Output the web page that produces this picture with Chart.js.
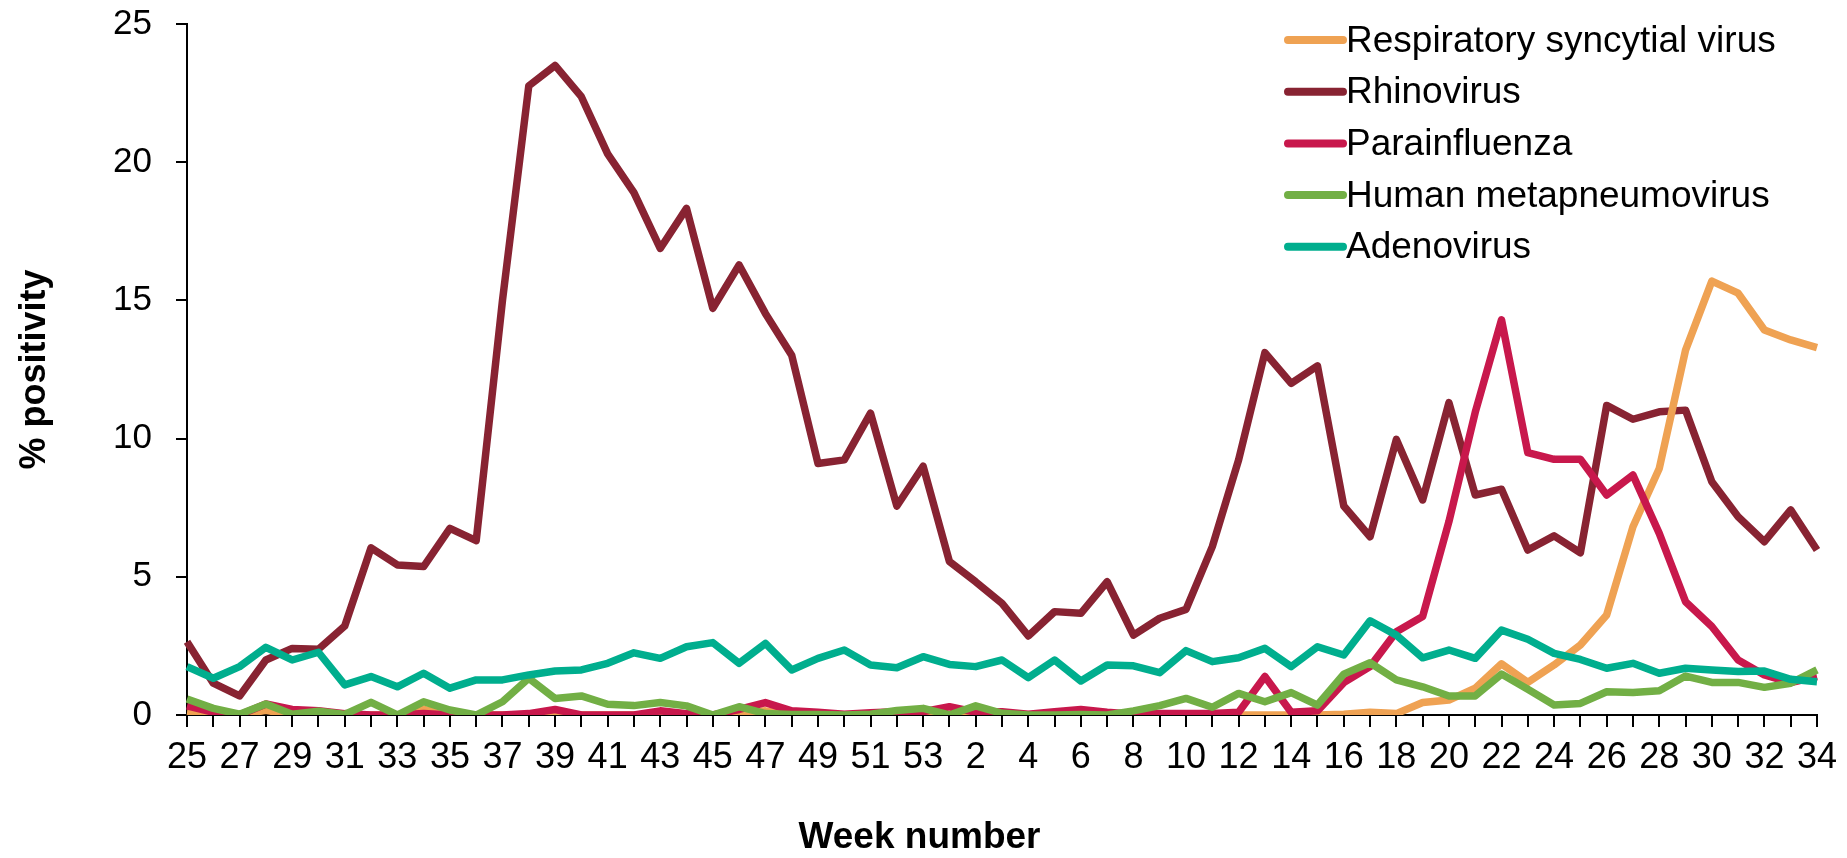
<!DOCTYPE html>
<html>
<head>
<meta charset="utf-8">
<title>Respiratory virus positivity by week</title>
<script src="https://cdn.jsdelivr.net/npm/chart.js@4/dist/chart.umd.min.js"></script>
<style>
  html, body { margin: 0; padding: 0; background: #ffffff; }
  #wrap { width: 1847px; height: 858px; }
</style>
</head>
<body>
<div id="wrap"><canvas id="chart" width="1847" height="858"></canvas></div>
<script>
// Surveillance weeks: 25–53 of the first year, then 1–34 of the next
const weeks = [
  25, 26, 27, 28, 29, 30, 31, 32, 33, 34, 35, 36, 37, 38, 39, 40, 41, 42,
  43, 44, 45, 46, 47, 48, 49, 50, 51, 52, 53,
  1, 2, 3, 4, 5, 6,
  7, 8, 9, 10, 11, 12, 13, 14, 15, 16, 17, 18, 19, 20, 21, 22, 23,
  24, 25, 26, 27, 28, 29, 30, 31, 32, 33, 34
];

// Weekly % positivity per virus
const rsv = [
  0.1, 0, 0, 0.17, 0, 0, 0, 0, 0, 0.2, 0, 0, 0, 0, 0.05, 0, 0, 0,
  0, 0, 0, 0.05, 0.15, 0, 0, 0, 0, 0, 0,
  0, 0, 0, 0, 0, 0,
  0, 0, 0, 0, 0, 0, 0, 0, 0, 0.03, 0.1, 0.05, 0.45, 0.54, 0.97, 1.85, 1.18,
  1.81, 2.53, 3.62, 6.81, 8.92, 13.2, 15.7, 15.26, 13.93, 13.57, 13.29
];
const rhinovirus = [
  2.65, 1.15, 0.69, 1.99, 2.41, 2.38, 3.22, 6.05, 5.43, 5.37, 6.75, 6.31, 15.0, 22.76, 23.5, 22.37, 20.3, 18.9,
  16.88, 18.33, 14.71, 16.28, 14.53, 13.02, 9.1, 9.23, 10.92, 7.56, 9.0,
  5.55, 4.82, 4.04, 2.86, 3.74, 3.68,
  4.82, 2.89, 3.5, 3.82, 6.09, 9.23, 13.11, 12.0, 12.63, 7.56, 6.45, 9.97, 7.78, 11.3, 7.96, 8.17, 5.97,
  6.48, 5.87, 11.2, 10.7, 10.97, 11.03, 8.44, 7.17, 6.27, 7.42, 5.97
];
const parainfluenza = [
  0.33, 0.1, 0, 0.4, 0.2, 0.15, 0.05, 0, 0, 0.05, 0, 0, 0, 0.05, 0.2, 0, 0, 0,
  0.15, 0.05, 0, 0.2, 0.45, 0.15, 0.1, 0.03, 0.08, 0.12, 0.12,
  0.3, 0.1, 0.12, 0.03, 0.12, 0.2,
  0.1, 0.03, 0.05, 0.05, 0.05, 0.1, 1.39, 0.1, 0.15, 1.17, 1.75, 3.01, 3.56, 7.0, 10.95, 14.3, 9.49,
  9.25, 9.25, 7.96, 8.68, 6.57, 4.1, 3.2, 1.99, 1.45, 1.17, 1.39
];
const metapneumovirus = [
  0.58, 0.24, 0.03, 0.4, 0.03, 0.14, 0.02, 0.46, 0, 0.48, 0.18, 0, 0.48, 1.33, 0.6, 0.69, 0.39, 0.34,
  0.45, 0.33, 0, 0.3, 0.05, 0.02, 0.02, 0, 0.03, 0.16, 0.24,
  0, 0.33, 0.06, 0, 0, 0.02,
  0, 0.15, 0.34, 0.6, 0.28, 0.78, 0.48, 0.81, 0.36, 1.48, 1.89, 1.27, 1.02, 0.69, 0.69, 1.48, 0.93,
  0.36, 0.42, 0.84, 0.81, 0.88, 1.41, 1.18, 1.18, 1.0, 1.15, 1.63
];
const adenovirus = [
  1.75, 1.33, 1.75, 2.45, 1.99, 2.27, 1.09, 1.39, 1.02, 1.51, 0.97, 1.27, 1.27, 1.45, 1.59, 1.63, 1.87, 2.25,
  2.05, 2.47, 2.62, 1.87, 2.59, 1.63, 2.05, 2.35, 1.81, 1.71, 2.11,
  1.83, 1.75, 1.99, 1.35, 1.99, 1.23,
  1.81, 1.78, 1.53, 2.33, 1.93, 2.07, 2.41, 1.75, 2.47, 2.17, 3.41, 2.89, 2.07, 2.35, 2.05, 3.07, 2.74,
  2.23, 2.01, 1.69, 1.87, 1.51, 1.69, 1.63, 1.57, 1.59, 1.29, 1.2
];

const seriesNames = [
  'Respiratory syncytial virus',
  'Rhinovirus',
  'Parainfluenza',
  'Human metapneumovirus',
  'Adenovirus'
];
const yTicks = [0, 5, 10, 15, 20, 25];
const xAxisTitle = 'Week number';
const yAxisTitle = '% positivity';

const FONT = "'Liberation Sans', Arial, sans-serif";

// Legend drawn inside the plot, top right, plus the x-axis title
const annotations = {
  id: 'annotations',
  afterDraw(chart, args, opts) {
    const ctx = chart.ctx;
    ctx.save();
    ctx.font = opts.legendFontSize + 'px ' + FONT;
    ctx.fillStyle = '#000';
    ctx.textAlign = 'left';
    ctx.textBaseline = 'alphabetic';
    chart.data.datasets.forEach((ds, i) => {
      const y = opts.legendTop + i * opts.rowGap;
      ctx.strokeStyle = ds.borderColor;
      ctx.lineWidth = opts.legendLineWidth;
      ctx.lineCap = 'round';
      ctx.beginPath();
      ctx.moveTo(opts.legendLeft, y);
      ctx.lineTo(opts.legendLeft + opts.lineLength, y);
      ctx.stroke();
      ctx.fillText(ds.label, opts.legendLeft + opts.lineLength + opts.gap, y + opts.baselineShift);
    });
    ctx.font = 'bold ' + opts.titleFontSize + 'px ' + FONT;
    ctx.textAlign = 'center';
    ctx.fillText(xAxisTitle, opts.titleX, opts.titleBaseline);
    ctx.restore();
  }
};

const colors = ['#EFA253', '#882332', '#C8184C', '#72AF45', '#00AE8E'];
const values = [rsv, rhinovirus, parainfluenza, metapneumovirus, adenovirus];
// stacking of the lines: rhinovirus underneath, adenovirus on top
const drawOrder = [4, 5, 3, 2, 1];

const datasets = seriesNames.map((name, i) => ({
  label: name,
  data: values[i],
  borderColor: colors[i],
  backgroundColor: colors[i],
  borderWidth: 7.5,
  borderJoinStyle: 'round',
  borderCapStyle: 'butt',
  pointRadius: 0,
  pointHoverRadius: 0,
  tension: 0,
  fill: false,
  order: drawOrder[i]
}));

new Chart(document.getElementById('chart'), {
  type: 'line',
  data: { labels: weeks.map(String), datasets },
  plugins: [annotations],
  options: {
    responsive: false,
    animation: false,
    layout: { padding: { top: 24, right: 30, left: 0, bottom: 0 } },
    plugins: {
      legend: { display: false },
      tooltip: { enabled: false },
      annotations: {
        legendLeft: 1288, legendTop: 40, rowGap: 51.7, lineLength: 55, gap: 3,
        legendLineWidth: 8, legendFontSize: 37, baselineShift: 11.5,
        titleFontSize: 37, titleX: 919.5, titleBaseline: 848
      }
    },
    scales: {
      x: {
        type: 'category',
        offset: false,
        afterFit(scale) { scale.height = 143; },
        border: { display: true, color: '#000', width: 2 },
        grid: {
          display: true, drawOnChartArea: false, drawTicks: true,
          tickLength: 12, color: '#000', lineWidth: 2
        },
        ticks: {
          autoSkip: false, maxRotation: 0, minRotation: 0,
          padding: 9, color: '#000',
          font: { family: FONT, size: 36 },
          callback(value, index) { return index % 2 === 0 ? weeks[index] : ''; }
        }
      },
      y: {
        min: 0, max: 25,
        afterFit(scale) {
          scale.width = 187;
          scale.paddingTop = 20;
          scale.paddingBottom = 20;
        },
        afterBuildTicks(scale) { scale.ticks = yTicks.map(v => ({ value: v })); },
        border: { display: true, color: '#000', width: 2 },
        grid: {
          display: true, drawOnChartArea: false, drawTicks: true,
          tickLength: 11, color: '#000', lineWidth: 2
        },
        ticks: {
          padding: 24, color: '#000',
          font: { family: FONT, size: 35 }
        },
        title: {
          display: true, text: yAxisTitle, color: '#000',
          font: { family: FONT, size: 36, weight: 'bold' },
          padding: { top: 13, bottom: 0 }
        }
      }
    }
  }
});
</script>
</body>
</html>
